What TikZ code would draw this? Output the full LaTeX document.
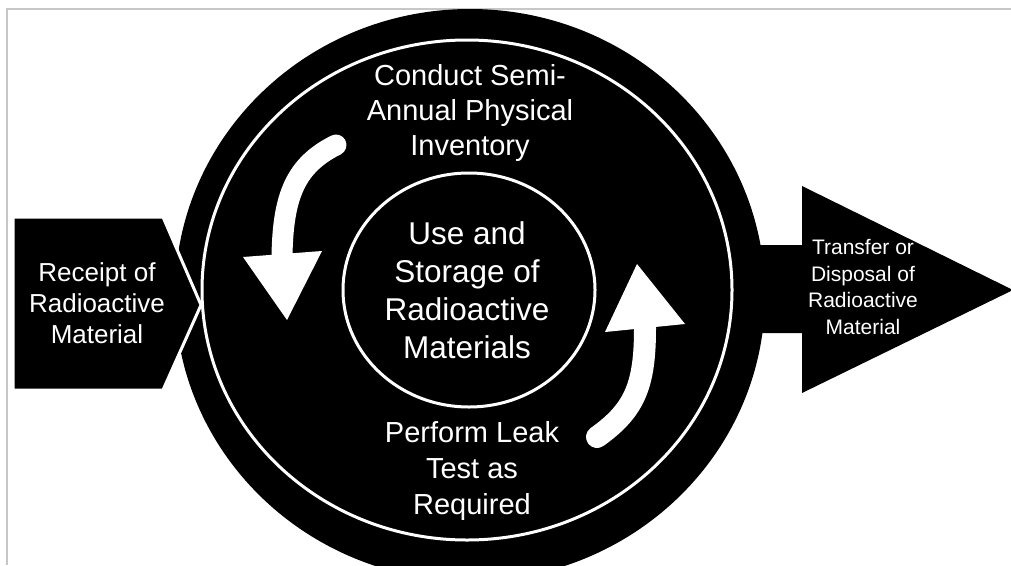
\documentclass[tikz,border=0pt]{standalone}
\usepackage{fontspec}
\setmainfont{Liberation Sans}
\tikzset{
  lbl/.style={text=white, align=center, inner sep=0pt},
  frame/.style={draw=black!22, line width=1.5pt},
  ringline/.style={draw=white, line width=3pt},
  curvearrow/.style={draw=white, line cap=round},
}
\begin{document}
\begin{tikzpicture}[x=1pt,y=-1pt]
\useasboundingbox (0,0) rectangle (1011,565);
% frame lines
\draw[frame] (7,565) -- (7,9) -- (1011,9);
% big black disc
\fill[black] (470,295) ellipse [x radius=295, y radius=286];
% right arrow
\fill[black] (740,245) -- (802,245) -- (802,186) -- (1013,290) -- (802,393) -- (802,333) -- (740,333) -- cycle;
% white ring and inner circle
\draw[ringline] (467,290) ellipse [x radius=265, y radius=250];
\draw[ringline] (469,290) ellipse [x radius=126, y radius=117];
% curved white arrows
\draw[curvearrow, line width=21pt] (336,145) .. controls (296,165) and (283,195) .. (282,256);
\fill[white] (243,257) -- (322,251) -- (287,320) -- cycle;
\draw[curvearrow, line width=22pt] (597,437) .. controls (635,410) and (645,385) .. (645,328);
\fill[white] (605,332) -- (685,324) -- (637,264) -- cycle;
% left pentagon
\filldraw[fill=black, draw=white, line width=3pt] (13,217) -- (163,217) -- (201,305) -- (163,390) -- (13,390) -- cycle;
% labels
\node[lbl, font=\fontsize{26}{31}\selectfont] (receipt) at (97,303) {Receipt of\\Radioactive\\Material};
\node[lbl, font=\fontsize{21}{26.5}\selectfont] (transfer) at (863,287) {Transfer or\\Disposal of\\Radioactive\\Material};
\node[lbl, font=\fontsize{29}{35}\selectfont] (conduct) at (470,113) {Conduct Semi-\\Annual Physical\\Inventory};
\node[lbl, font=\fontsize{31.5}{38}\selectfont] (use) at (467,290) {Use and\\Storage of\\Radioactive\\Materials};
\node[lbl, font=\fontsize{29}{36}\selectfont] (perform) at (472,471) {Perform Leak\\Test as\\Required};
\end{tikzpicture}
\end{document}
